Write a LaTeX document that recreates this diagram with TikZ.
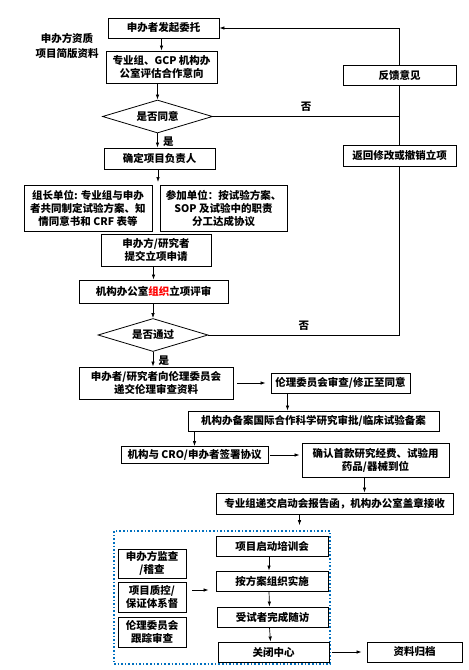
\documentclass[tikz,border=0pt]{standalone}
\usepackage{fontspec}
\setmainfont{Noto Sans CJK SC}
\usetikzlibrary{shapes.geometric, arrows.meta, positioning}

\begin{document}
\begin{tikzpicture}[x=1pt, y=-1pt,
    every node/.style={font=\fontsize{10.5}{13}\selectfont\bfseries},
    stepbox/.style={draw, rectangle, line width=0.9pt, align=center, inner sep=0pt},
    decision/.style={draw, diamond, aspect=3.3, line width=0.8pt, inner sep=0pt, minimum width=110pt, minimum height=33pt},
    flow/.style={-{Latex[length=5pt,width=3.5pt]}, line width=0.7pt},
    link/.style={line width=0.8pt}
]
    \useasboundingbox (0,0) rectangle (469,670);

    % Project set-up
    \node (entrust) [stepbox, minimum width=111pt, minimum height=20pt] at (163.5, 28) {申办者发起委托};
    \node (docs) [align=center, font=\fontsize{10.5}{15}\selectfont\bfseries] at (67, 45.5) {申办方资质\\项目简版资料};
    \node (assess) [stepbox, minimum width=111pt, minimum height=32pt] at (161.5, 67) {专业组、GCP 机构办\\公室评估合作意向};
    \node (agree) [decision] at (157.5, 116.5) {是否同意};
    \node (feedback) [stepbox, minimum width=113pt, minimum height=20pt] at (399.5, 75) {反馈意见};
    \node (revise) [stepbox, minimum width=113pt, minimum height=21pt] at (399.5, 155.5) {返回修改或撤销立项};
    \node (leader) [stepbox, minimum width=111pt, minimum height=21pt] at (159.5, 158.5) {确定项目负责人};
    \coordinate (split) at (158, 182);
    \node (leadunit) [stepbox, minimum width=128pt, minimum height=46pt] at (88, 208) {组长单位: 专业组与申办\\者共同制定试验方案、知\\情同意书和 CRF 表等};
    \node (partunit) [stepbox, minimum width=127pt, minimum height=46pt] at (223.5, 208) {参加单位：按试验方案、\\SOP 及试验中的职责\\分工达成协议};
    \node (apply) [stepbox, minimum width=110pt, minimum height=32pt] at (156, 250) {申办方/研究者\\提交立项申请};
    \node (review) [stepbox, minimum width=149pt, minimum height=23pt] at (153.5, 291.5) {机构办公室\textcolor{red}{组织}立项评审};
    \node (pass) [decision] at (153, 335) {是否通过};

    % Ethics and contract
    \node (ecsubmit) [stepbox, minimum width=154pt, minimum height=32pt] at (156, 383) {申办者/研究者向伦理委员会\\递交伦理审查资料};
    \node (ecreview) [stepbox, minimum width=139pt, minimum height=20pt] at (340.5, 383) {伦理委员会审查/修正至同意};
    \node (filing) [stepbox, minimum width=251pt, minimum height=20pt] at (313.5, 421) {机构办备案国际合作科学研究审批/临床试验备案};
    \node (sign) [stepbox, minimum width=147pt, minimum height=17pt] at (194.5, 455) {机构与 CRO/申办者签署协议};
    \node (funds) [stepbox, minimum width=147pt, minimum height=34pt] at (375.5, 460) {确认首款研究经费、试验用\\药品/器械到位};
    \node (kickoff) [stepbox, minimum width=237pt, minimum height=21pt] at (334.5, 503.5) {专业组递交启动会报告函，机构办公室盖章接收};

    % Conduct phase
    \node (phase) [draw={rgb,255:red,0;green,112;blue,192}, dotted, line width=1.6pt, minimum width=216pt, minimum height=133pt] at (222, 597.5) {};
    \node (training) [stepbox, minimum width=112pt, minimum height=20pt] at (272, 546) {项目启动培训会};
    \node (conduct) [stepbox, minimum width=112pt, minimum height=20pt] at (272, 581) {按方案组织实施};
    \node (followup) [stepbox, minimum width=111pt, minimum height=20pt] at (272.5, 617) {受试者完成随访};
    \node (close) [stepbox, minimum width=111pt, minimum height=20pt] at (273.5, 652) {关闭中心};
    \node (monitor) [stepbox, minimum width=68pt, minimum height=29pt] at (152, 563.5) {申办方监查\\/稽查};
    \node (quality) [stepbox, minimum width=68pt, minimum height=30pt] at (152, 597) {项目质控/\\保证体系督};
    \node (ecfollow) [stepbox, minimum width=68pt, minimum height=30pt] at (152, 632) {伦理委员会\\跟踪审查};
    \node (archive) [stepbox, minimum width=95pt, minimum height=20pt] at (414.5, 652) {资料归档};

    % Connections
    \draw [flow] (assess.north |- entrust.south) -- (assess.north);
    \draw [flow] (assess.south -| agree.north) -- (agree.north);
    \draw [flow] (agree.south) -- node[right, xshift=2pt, yshift=-1pt] {是} (agree.south |- leader.north);
    \draw [flow] (leader.south -| split) -- (split);
    \draw [flow] (review.north |- apply.south) -- (review.north);
    \draw [flow] (review.south -| pass.north) -- (pass.north);
    \draw [flow] (pass.south) -- node[right, xshift=2pt, yshift=-1pt] {是} (pass.south |- ecsubmit.north);

    \draw [link] (agree.east) -- node[above, yshift=1pt] {否} (agree.east -| revise.north);
    \draw [link] (pass.east) -- node[above, yshift=1pt] {否} (pass.east -| revise.south) -- (revise.south);
    \draw [link] (revise.north) -- (feedback.south);
    \draw [flow] (feedback.north) |- (entrust.east);

    \draw [flow, shorten <=4pt, shorten >=5pt] (ecsubmit.east) -- (ecreview.west);
    \draw [flow] ([xshift=-53pt]ecreview.south) -- ([xshift=-53pt]ecreview.south |- filing.north);
    \draw [flow] (sign.north |- filing.south) -- (sign.north);
    \draw [flow, shorten <=2pt, shorten >=2pt] (sign.east) -- (sign.east -| funds.west);
    \draw [flow] ([xshift=-11pt]funds.south) -- ([xshift=-11pt]funds.south |- kickoff.north);
    \draw [flow, shorten >=5pt] ([xshift=-35pt]kickoff.south) -- ([xshift=-35pt]kickoff.south |- phase.north);

    \foreach \a/\b in {training/conduct, conduct/followup, followup/close}
        \draw [flow] ([xshift=-3pt]\a.south) -- ([xshift=-3pt]\b.north);
    \draw [flow, shorten <=6pt, shorten >=7pt] ([yshift=7pt]quality.east) -- ([yshift=7pt]quality.east -| conduct.west);
    \draw [flow, shorten <=3pt, shorten >=5pt] (close.east) -- (archive.west);

\end{tikzpicture}
\end{document}
